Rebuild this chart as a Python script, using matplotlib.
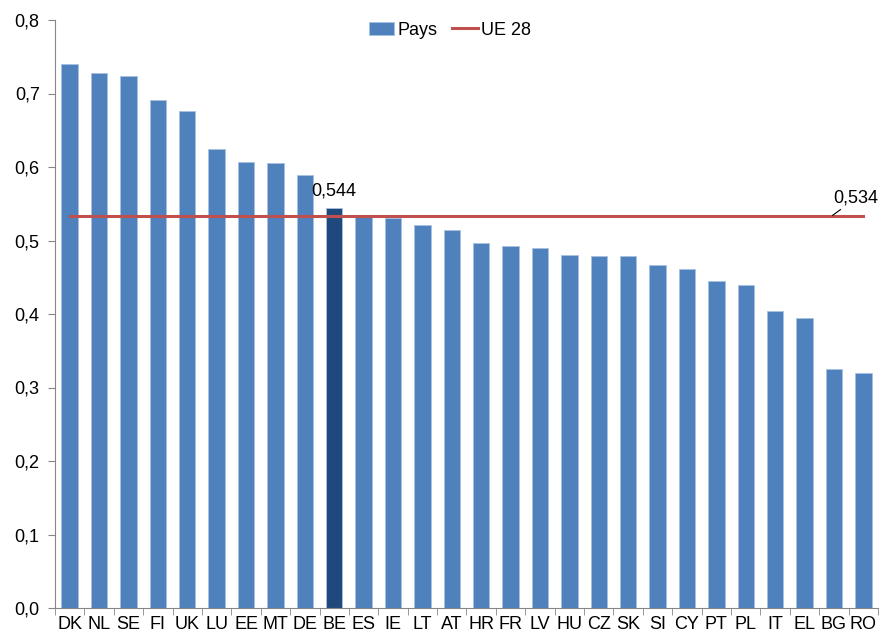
import matplotlib
matplotlib.use("Agg")
import matplotlib.pyplot as plt
from matplotlib.ticker import FixedLocator, FuncFormatter

plt.rcParams['font.family'] = ['Liberation Sans', 'DejaVu Sans']

countries = ["DK", "NL", "SE", "FI", "UK", "LU", "EE", "MT", "DE", "BE", "ES", "IE", "LT", "AT",
             "HR", "FR", "LV", "HU", "CZ", "SK", "SI", "CY", "PT", "PL", "IT", "EL", "BG", "RO"]
values = [0.740, 0.728, 0.724, 0.691, 0.676, 0.624, 0.607, 0.605, 0.589, 0.544, 0.533, 0.531, 0.521, 0.514,
          0.497, 0.492, 0.490, 0.480, 0.479, 0.479, 0.467, 0.461, 0.445, 0.439, 0.404, 0.395, 0.325, 0.320]
eu_value = 0.534
highlight = "BE"

fig = plt.figure(figsize=(8.81, 6.37), dpi=100)
ax = fig.add_axes([55/881, 29/637, 823/881, 588/637])

x = list(range(len(countries)))
colors = ["#1F497D" if c == highlight else "#4F81BD" for c in countries]
bars = ax.bar(x, values, width=0.56, color=colors, edgecolor="#A9C1E0", linewidth=0.6, label="Pays", zorder=2)
line, = ax.plot([x[0], x[-1]], [eu_value, eu_value], color="#C0504D", linewidth=2.2, label="UE 28", zorder=3)

hi = countries.index(highlight)
ax.annotate(f"{values[hi]:.3f}".replace(".", ","), (hi, values[hi]), xytext=(0, 6),
            textcoords="offset points", ha="center", va="bottom", fontsize=13)
ax.annotate(f"{eu_value:.3f}".replace(".", ","), xy=(x[-1] - 1.05, eu_value), xytext=(x[-1] - 0.25, eu_value + 0.012),
            ha="center", va="bottom", fontsize=13,
            arrowprops=dict(arrowstyle="-", color="black", lw=0.8, shrinkA=0, shrinkB=0))

ax.set_xlim(-0.5, len(countries) - 0.5)
ax.set_ylim(0, 0.8)
ax.set_yticks([i / 10 for i in range(9)])
ax.yaxis.set_major_formatter(FuncFormatter(lambda v, p: f"{v:.1f}".replace(".", ",")))
ax.set_xticks(x)
ax.set_xticklabels(countries)
ax.xaxis.set_minor_locator(FixedLocator([i - 0.5 for i in range(len(countries) + 1)]))
ax.tick_params(axis="x", which="major", length=0, labelsize=13, pad=6)
ax.tick_params(axis="x", which="minor", length=5, color="#878787", direction="out")
ax.tick_params(axis="y", length=5, color="#878787", labelsize=13, pad=6)

for s in ["top", "right"]:
    ax.spines[s].set_visible(False)
for s in ["left", "bottom"]:
    ax.spines[s].set_color("#878787")

ax.legend(handles=[bars, line], loc="upper center", bbox_to_anchor=(0.48, 1.025), ncol=2, frameon=False,
          fontsize=13, handlelength=1.4, handletextpad=0.2, columnspacing=0.8)

fig.savefig("out.png", dpi=100)
